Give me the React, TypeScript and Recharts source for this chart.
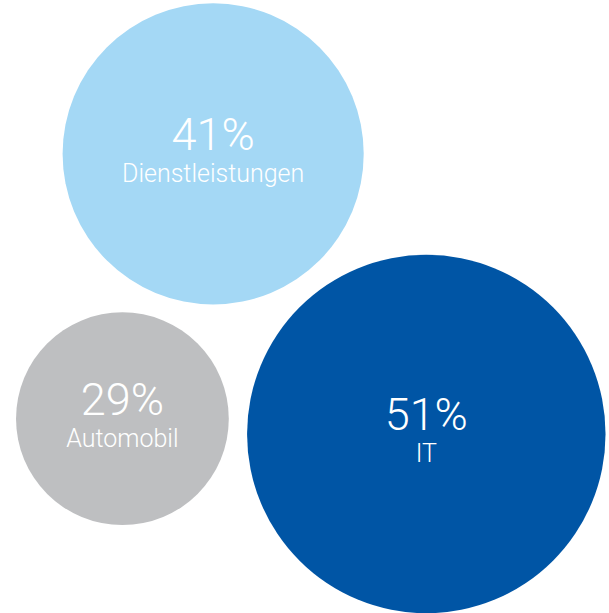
import React from 'react';
import { ScatterChart, Scatter, XAxis, YAxis, ZAxis, Cell } from 'recharts';

// Sectors shown as bubbles
const sectors = ['Dienstleistungen', 'Automobil', 'IT'];
// Share of companies (%)
const shares = [41, 29, 51];
// Bubble layout position (0-100 layout units)
const layoutX = [35.0, 20.1, 70.0];
const layoutY = [25.1, 68.3, 70.8];
const colors = ['#A4D8F5', '#BEBFC1', '#0055A5'];

const data = sectors.map((s, i) => ({
  sector: s,
  share: shares[i],
  x: layoutX[i],
  y: layoutY[i],
}));

const FONT = 'Roboto, "Liberation Sans", Arial, sans-serif';

const Bubble = (props: any) => {
  const { cx, cy, width, fill, payload } = props;
  const r = width / 2;
  return (
    <g>
      <circle cx={cx} cy={cy} r={r} fill={fill} />
      <text
        x={cx}
        y={cy - 4}
        textAnchor="middle"
        fill="#ffffff"
        fontFamily={FONT}
        fontWeight={300}
        fontSize={45}
      >
        {payload.share}%
      </text>
      <text
        x={cx}
        y={cy + 28}
        textAnchor="middle"
        fill="#ffffff"
        fontFamily={FONT}
        fontWeight={300}
        fontSize={25}
      >
        {payload.sector}
      </text>
    </g>
  );
};

export default function App() {
  return (
    <div style={{ position: 'absolute', left: 0, top: 0, width: 609, height: 613, background: '#fff' }}>
      <ScatterChart width={609} height={613} margin={{ top: 0, right: 0, bottom: 0, left: 0 }}>
        <XAxis type="number" dataKey="x" domain={[0, 100]} hide />
        <YAxis type="number" dataKey="y" domain={[0, 100]} reversed hide />
        <ZAxis type="number" dataKey="share" domain={[29, 51]} range={[35549, 100933]} />
        <Scatter data={data} shape={<Bubble />} isAnimationActive={false}>
          {data.map((d, i) => (
            <Cell key={d.sector} fill={colors[i]} />
          ))}
        </Scatter>
      </ScatterChart>
    </div>
  );
}
